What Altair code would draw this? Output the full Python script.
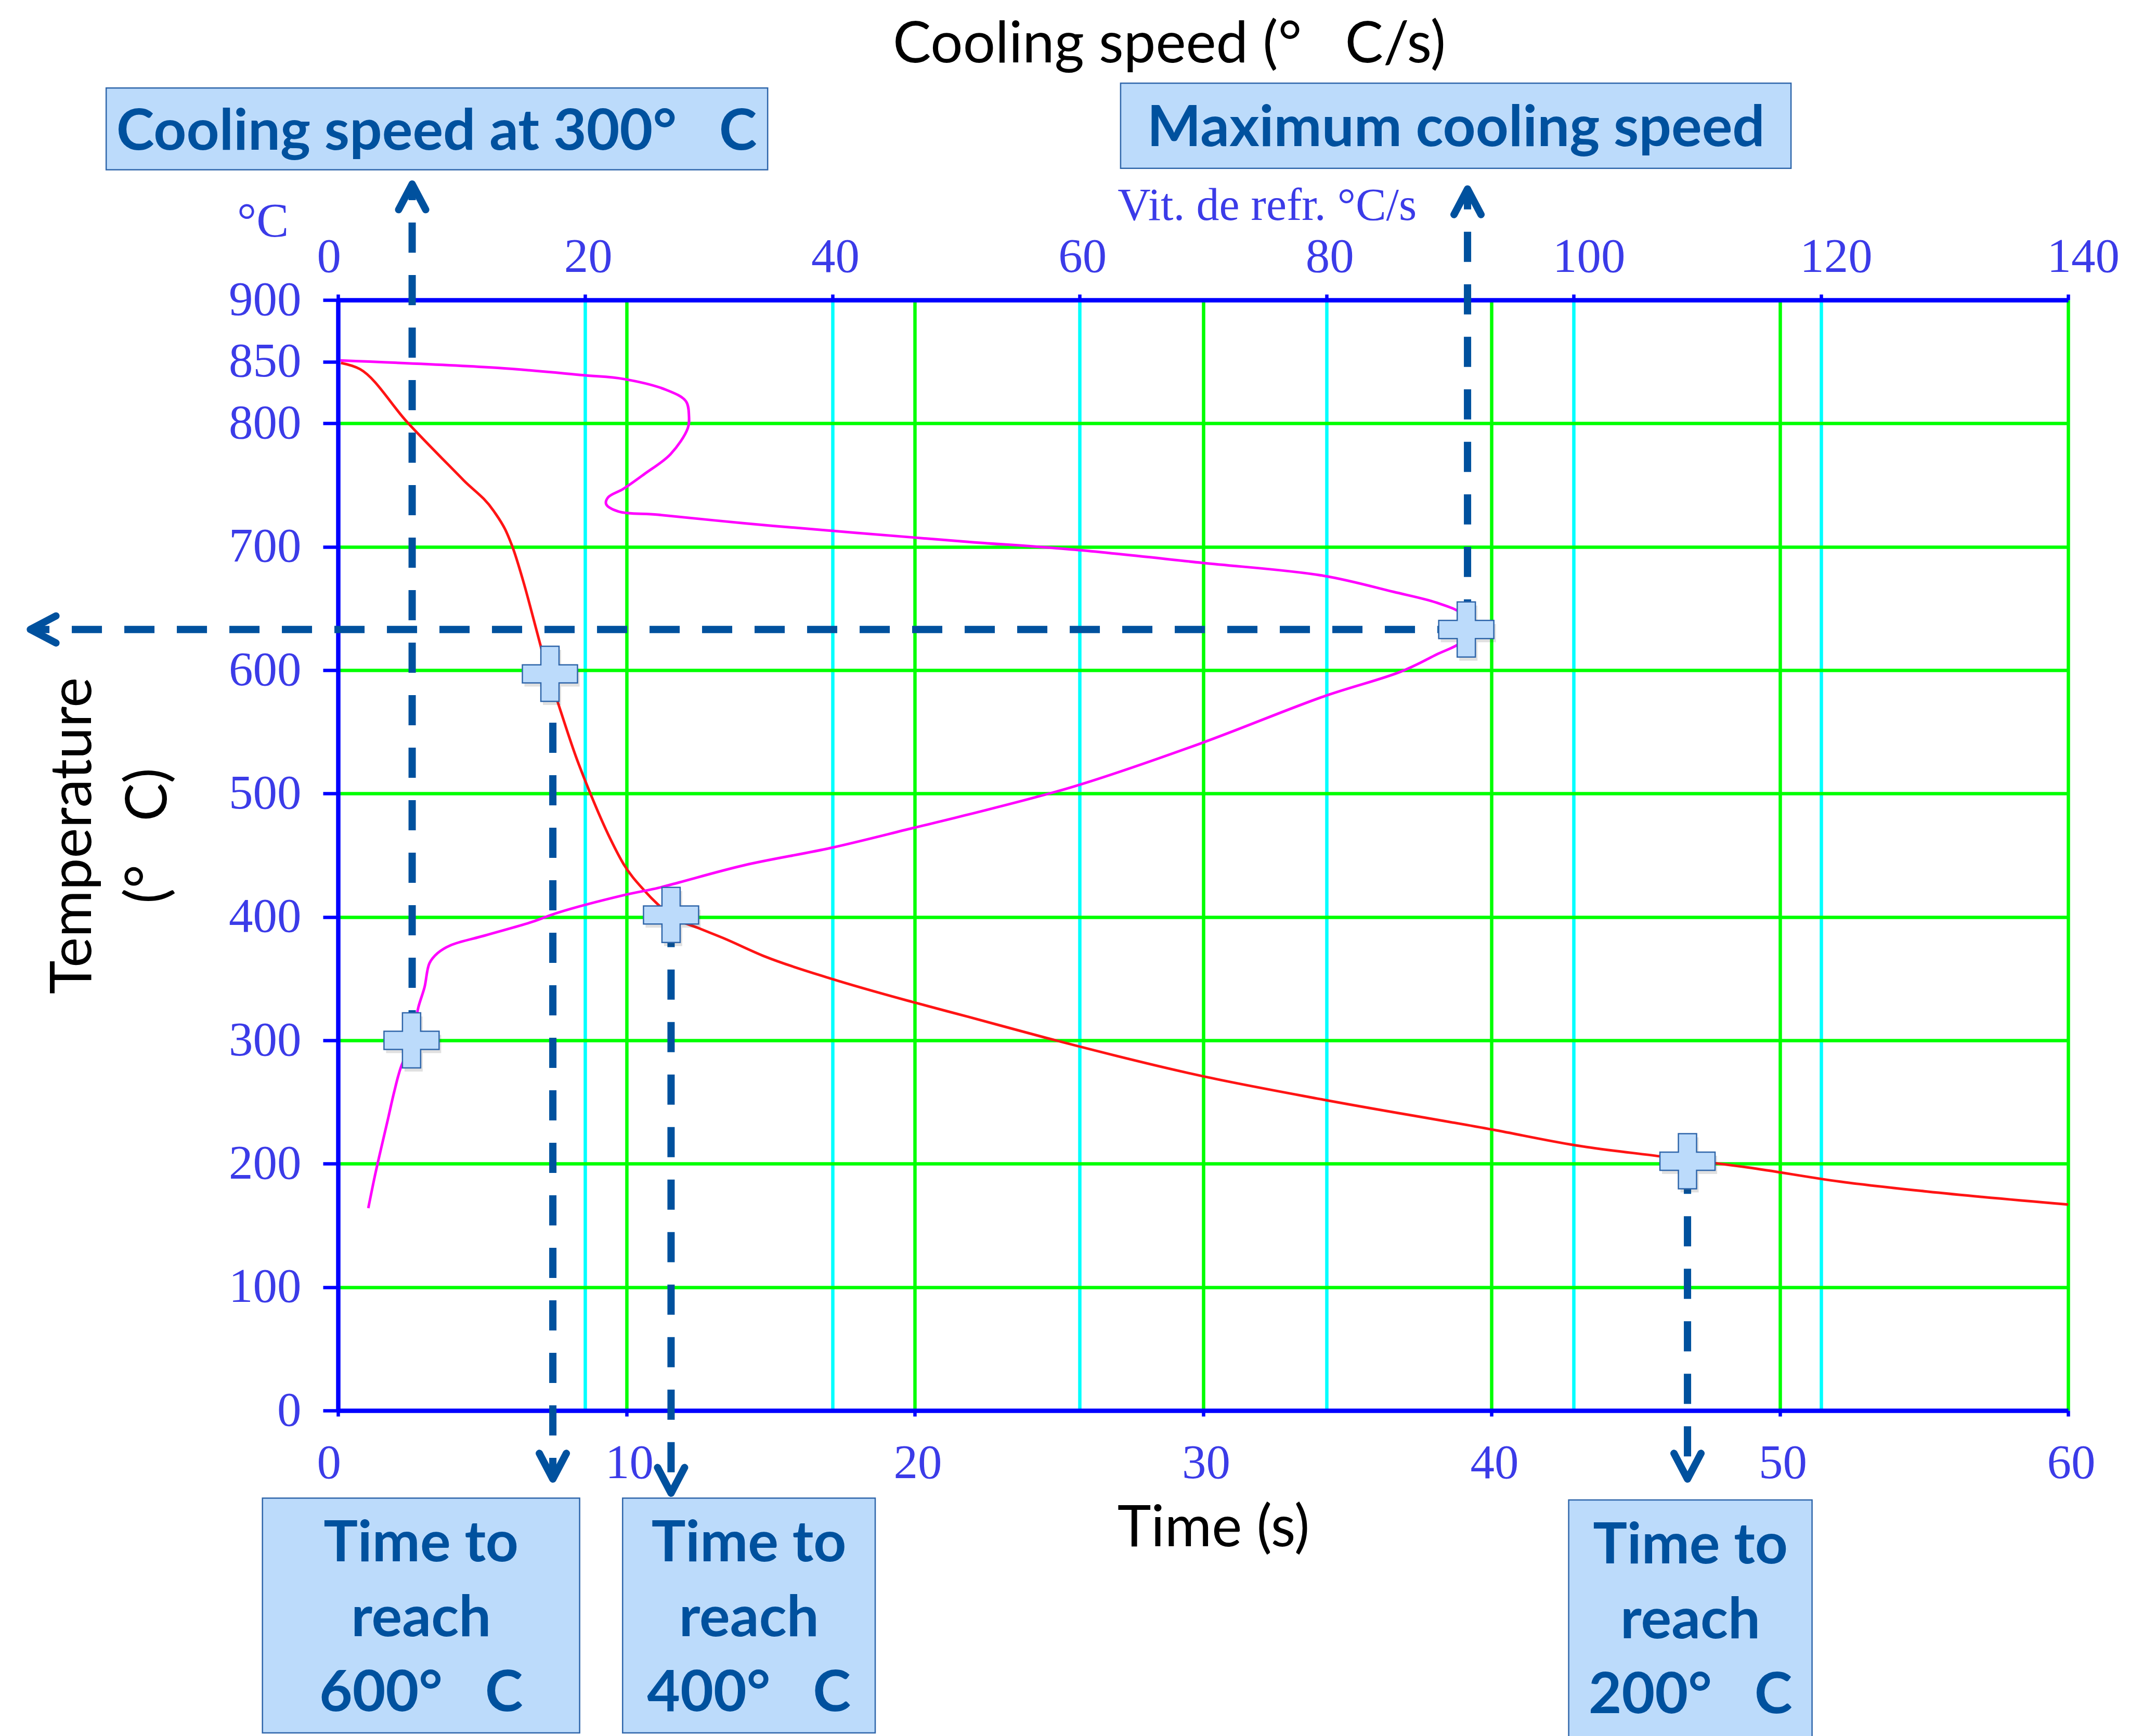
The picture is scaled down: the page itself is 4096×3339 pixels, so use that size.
import altair as alt
import pandas as pd

# ---------------------------------------------------------------------------
# Cooling curve: temperature (°C) against time (s)
red_time = [0.1, 0.76, 2.4, 4.35, 5.4, 5.84, 6.08, 6.45, 6.82, 7.2,
            7.65, 8.25, 8.7, 9.45, 9.9, 10.64, 11.1, 11.6, 12.5, 13.35,
            14.8, 17.1, 19.94, 21.87, 24.56, 29.98, 34.16, 40.07, 42.9, 45.85,
            48.9, 52.1, 55.1, 60.0]
red_temp = [849, 844, 801, 754, 729, 712, 698, 670, 638, 605,
            572, 530, 503, 463, 443, 421, 410, 400, 391, 383,
            368, 350, 331, 319, 302, 271, 252, 227.5, 215, 206,
            197, 185.5, 177.5, 167]

# Cooling speed (°C/s) against temperature (°C), in path order
mag_speed = [0.2, 12.9, 19.9, 23.1, 26.6, 28.15, 28.4, 28.3, 26.9, 24.8,
             23.1, 21.85, 21.7, 22.7, 25.9, 32.9, 39.9, 46.5, 51.0, 59.6,
             69.9, 79.7, 85.4, 88.9, 90.9, 91.5, 90.9, 88.9, 86.0, 79.7,
             69.9, 59.6, 51.0, 46.5, 39.9, 32.9, 27.6, 25.9, 23.1, 17.8,
             15.7, 11.9, 9.1, 8.05, 7.4, 7.0, 6.5, 6.0, 5.08, 4.54,
             4.03, 3.5, 2.98, 2.45]
mag_temp = [851, 845, 839, 836, 827, 818, 806, 796, 775, 759,
            747, 740, 734.5, 728.6, 726, 719, 713, 707.6, 704, 697.6,
            687, 676.6, 663.5, 654.7, 645.9, 635, 623, 612.7, 598.8, 578.5,
            541, 505.9, 483, 472, 456, 442, 428, 423.5, 417.6, 403.5,
            396, 385, 377, 370.6, 362.5, 343, 326.7, 300, 278, 258,
            235.7, 213, 190, 164]

# Axis tick values
temp_ticks = [0, 100, 200, 300, 400, 500, 600, 700, 800, 850, 900]
time_ticks = [0, 10, 20, 30, 40, 50, 60]
speed_ticks = [0, 20, 40, 60, 80, 100, 120, 140]

# Markers on the cooling curve (time, temperature)
time_mark_t = [7.35, 11.55, 46.8]
time_mark_T = [597, 401.6, 202]
# Markers on the cooling-speed curve (speed, temperature)
speed_mark_s = [5.95, 91.3]
speed_mark_T = [300, 633]

# Guide lines, in data units
down_t = [7.45, 11.55, 46.8]
down_from_T = [600, 400, 200]
down_to_T = [-55.5, -67.0, -55.5]
up_s = [6.0, 91.4]
up_from_T = [300, 633]
up_to_T = [994.0, 990.0]
left_from_s = [91.4]
left_to_s = [-24.9]
left_T = [633]

# Callout boxes (time / temperature anchors)
box_text = ["Cooling speed at 300°\u2002 C", "Maximum cooling speed",
            "Time to\nreach\n600°\u2002 C", "Time to\nreach\n400°\u2002 C",
            "Time to\nreach\n200°\u2002 C"]
box_t_left = [-8.04, 27.14, -2.62, 9.87, 42.68]
box_t_right = [14.90, 50.39, 8.38, 18.63, 51.12]
box_T_top = [1071.8, 1075.7, -71.0, -71.0, -72.5]
box_T_bottom = [1005.5, 1006.7, -261.2, -261.2, -290.0]
box_text_t = [3.42, 38.77, 2.88, 14.25, 46.9]
box_text_T = [1021.6, 1024.7, -122.4, -122.4, -123.9]

# Unit captions next to the axes
unit_text = ["°C", "Vit. de refr. °C/s"]
unit_t = [-1.71, 27.04]
unit_T = [951.4, 964.7]

# ---------------------------------------------------------------------------
W, H = 3327, 2136
LABEL_FONT = "Liberation Serif"
TITLE_FONT = "Lato"
AXIS_BLUE = "#0000ff"
LABEL_BLUE = "#3b3be8"
GUIDE_BLUE = "#00519e"
BOX_FILL = "#bcdbfb"
BOX_EDGE = "#2f66aa"

ARROW_UP = "M-1,1.9L0,0L1,1.9"
ARROW_DOWN = "M-1,-1.9L0,0L1,-1.9"
ARROW_LEFT = "M1.9,-1L0,0L1.9,1"
CROSS = ("M-0.33,-1L0.33,-1L0.33,-0.33L1,-0.33L1,0.33L0.33,0.33L0.33,1"
         "L-0.33,1L-0.33,0.33L-1,0.33L-1,-0.33L-0.33,-0.33Z")

temp_scale = alt.Scale(domain=[0, 900], nice=False, zero=False)
time_scale = alt.Scale(domain=[0, 60], nice=False, zero=False)
speed_scale = alt.Scale(domain=[0, 140], nice=False, zero=False)

common_axis = dict(
    domainColor=AXIS_BLUE, domainWidth=8.5,
    tickColor=AXIS_BLUE, tickWidth=6.5,
    labelFont=LABEL_FONT, labelFontSize=93, labelColor=LABEL_BLUE,
    labelFlush=False, labelOverlap=False,
    titleFont=TITLE_FONT, titleFontSize=110, titleFontWeight="normal",
    titleColor="black", gridWidth=6.5,
)

temp_axis = alt.Axis(
    values=temp_ticks, title=["Temperature", "(°\u2002 C)"],
    grid=True,
    gridColor={"condition": {"test": "datum.value > 0 && datum.value < 850",
                             "value": "#00ff00"}, "value": "transparent"},
    tickSize=29, labelPadding=42, labelBaseline="middle",
    titleAngle=270, titleX=-476, titleY=1030, titleAlign="center",
    titleBaseline="alphabetic", titleLineHeight=145,
    **common_axis,
)

time_axis = alt.Axis(
    orient="bottom", values=time_ticks, title="Time (s)", grid=True,
    gridColor={"condition": {"test": "datum.value > 0", "value": "#00ff00"},
               "value": "transparent"},
    tickSize=11, labelAlign="left", labelOffset=-41,
    labelBaseline="alphabetic", labelPadding=118,
    titleX=1683, titleY=260, titleAlign="center", titleBaseline="alphabetic",
    **common_axis,
)

speed_axis = alt.Axis(
    orient="top", values=speed_ticks, title="Cooling speed (°\u2002 C/s)",
    grid=True,
    gridColor={"condition": {"test": "datum.value > 0 && datum.value < 140",
                             "value": "#00ffff"}, "value": "transparent"},
    tickSize=11, labelAlign="left", labelOffset=-41,
    labelBaseline="alphabetic", labelPadding=44,
    titleX=1598, titleY=-458, titleAlign="center", titleBaseline="alphabetic",
    **common_axis,
)


def ty(field):
    return alt.Y(field, type="quantitative", scale=temp_scale, axis=temp_axis)


def tx(field, axis=None):
    return alt.X(field, type="quantitative", scale=time_scale, axis=axis)


def sx(field):
    return alt.X(field, type="quantitative", scale=speed_scale, axis=speed_axis)


# ---------------------------------------------------------------------------
red_df = pd.DataFrame({"t": red_time, "T": red_temp, "i": range(len(red_time))})
mag_df = pd.DataFrame({"s": mag_speed, "T": mag_temp, "i": range(len(mag_speed))})

red_line = alt.Chart(red_df).mark_line(
    color="#ff1414", strokeWidth=5, interpolate="monotone").encode(
    x=tx("t", time_axis), y=ty("T"), order="i:Q")

# Cooling-speed curve with its guides
mag_line = alt.Chart(mag_df).mark_line(
    color="#ff00ff", strokeWidth=5, interpolate="catmull-rom").encode(
    x=sx("s"), y=ty("T"), order="i:Q")

up_df = pd.DataFrame({"s": up_s, "T0": up_from_T, "T1": up_to_T})
up_rules = alt.Chart(up_df).mark_rule(
    color=GUIDE_BLUE, strokeWidth=14, strokeDash=[58, 43]).encode(
    x=sx("s"), y=ty("T0"), y2=alt.Y2("T1"))
up_heads = alt.Chart(up_df).mark_point(
    shape=ARROW_UP, size=2704, filled=False, stroke=GUIDE_BLUE, strokeWidth=14,
    strokeCap="round", strokeJoin="round", opacity=1).encode(
    x=sx("s"), y=ty("T1"))

left_df = pd.DataFrame({"s0": left_from_s, "s1": left_to_s, "T": left_T})
left_rule = alt.Chart(left_df).mark_rule(
    color=GUIDE_BLUE, strokeWidth=14, strokeDash=[58, 43]).encode(
    x=sx("s0"), x2=alt.X2("s1"), y=ty("T"))
left_head = alt.Chart(left_df).mark_point(
    shape=ARROW_LEFT, size=2704, filled=False, stroke=GUIDE_BLUE, strokeWidth=14,
    strokeCap="round", strokeJoin="round", opacity=1).encode(
    x=sx("s1"), y=ty("T"))

smark_df = pd.DataFrame({"s": speed_mark_s, "T": speed_mark_T})
smark_shadow = alt.Chart(smark_df).mark_point(
    shape=CROSS, size=11236, filled=True, fill="#404040", opacity=0.16,
    strokeWidth=0, xOffset=4, yOffset=7).encode(x=sx("s"), y=ty("T"))
smarks = alt.Chart(smark_df).mark_point(
    shape=CROSS, size=11236, filled=True, fill=BOX_FILL, stroke=BOX_EDGE,
    strokeWidth=2.5, opacity=1).encode(x=sx("s"), y=ty("T"))

speed_layer = alt.layer(mag_line, up_rules, left_rule, smark_shadow, smarks,
                        up_heads, left_head)

# Time-based guides, markers and callouts
down_df = pd.DataFrame({"t": down_t, "T0": down_from_T, "T1": down_to_T})
down_rules = alt.Chart(down_df).mark_rule(
    color=GUIDE_BLUE, strokeWidth=14, strokeDash=[58, 43]).encode(
    x=tx("t"), y=ty("T0"), y2=alt.Y2("T1"))
down_heads = alt.Chart(down_df).mark_point(
    shape=ARROW_DOWN, size=2704, filled=False, stroke=GUIDE_BLUE, strokeWidth=14,
    strokeCap="round", strokeJoin="round", opacity=1).encode(
    x=tx("t"), y=ty("T1"))

tmark_df = pd.DataFrame({"t": time_mark_t, "T": time_mark_T})
tmark_shadow = alt.Chart(tmark_df).mark_point(
    shape=CROSS, size=11236, filled=True, fill="#404040", opacity=0.16,
    strokeWidth=0, xOffset=4, yOffset=7).encode(x=tx("t"), y=ty("T"))
tmarks = alt.Chart(tmark_df).mark_point(
    shape=CROSS, size=11236, filled=True, fill=BOX_FILL, stroke=BOX_EDGE,
    strokeWidth=2.5, opacity=1).encode(x=tx("t"), y=ty("T"))

box_df = pd.DataFrame({"label": box_text, "t0": box_t_left, "t1": box_t_right,
                       "T0": box_T_top, "T1": box_T_bottom,
                       "tt": box_text_t, "TT": box_text_T})
boxes = alt.Chart(box_df).mark_rect(
    fill=BOX_FILL, stroke=BOX_EDGE, strokeWidth=2.5).encode(
    x=tx("t0"), x2=alt.X2("t1"), y=ty("T0"), y2=alt.Y2("T1"))
box_labels = alt.Chart(box_df).mark_text(
    font=TITLE_FONT, fontWeight="bold", fontSize=110, color=GUIDE_BLUE,
    align="center", baseline="alphabetic", lineBreak="\n", lineHeight=144).encode(
    x=tx("tt"), y=ty("TT"), text="label:N")

unit_df = pd.DataFrame({"label": unit_text, "t": unit_t, "T": unit_T})
unit_c = alt.Chart(unit_df.iloc[[0]]).mark_text(
    font=LABEL_FONT, fontSize=93, color=LABEL_BLUE, align="right",
    baseline="alphabetic").encode(x=tx("t"), y=ty("T"), text="label:N")
unit_speed = alt.Chart(unit_df.iloc[[1]]).mark_text(
    font=LABEL_FONT, fontSize=88, color=LABEL_BLUE, align="left",
    baseline="alphabetic").encode(x=tx("t"), y=ty("T"), text="label:N")

guide_layer = alt.layer(down_rules, tmark_shadow, tmarks, down_heads,
                        boxes, box_labels, unit_c, unit_speed)

chart = alt.layer(red_line, speed_layer, guide_layer).resolve_scale(
    x="independent"
).properties(
    width=W, height=H,
    autosize=alt.AutoSizeParams(type="none"),
    padding={"left": 650, "top": 577, "right": 119, "bottom": 626},
    background="white",
).configure_view(strokeWidth=0)

chart.save("out.html", embed_options={"renderer": "svg", "actions": False})
